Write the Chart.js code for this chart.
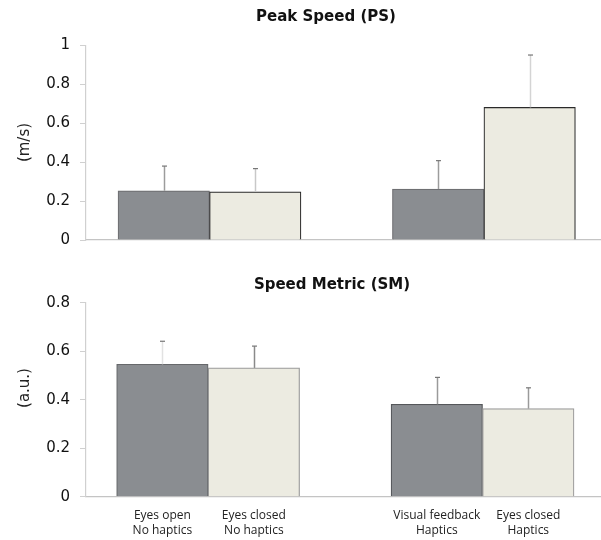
<!DOCTYPE html>
<html>
<head>
<meta charset="utf-8">
<script src="https://cdn.jsdelivr.net/npm/chart.js@4"></script>
<style>
  body { margin: 0; background: #fff; }
  #wrap { position: relative; width: 601px; height: 540px; }
  #psBox { position: absolute; left: 0; top: 0; width: 601px; height: 260px; }
  #smBox { position: absolute; left: 0; top: 260px; width: 601px; height: 280px; }
</style>
</head>
<body>
<div id="wrap">
  <div id="psBox"><canvas id="psChart"></canvas></div>
  <div id="smBox"><canvas id="smChart"></canvas></div>
</div>
<script>
// conditions along the x axis (a gap separates the two groups)
const conditions = [
    ["Eyes open", "No haptics"],
    ["Eyes closed", "No haptics"],
    ["Visual feedback", "Haptics"],
    ["Eyes closed", "Haptics"],
];
const slots = [0, 1, 3, 4];

// Peak Speed (m/s): mean and upper error
const psMean = [0.253, 0.248, 0.262, 0.682];
const psErr = [0.127, 0.119, 0.146, 0.269];
const psTicks = [0, 0.2, 0.4, 0.6, 0.8, 1];

// Speed Metric (a.u.): mean and upper error
const smMean = [0.546, 0.531, 0.381, 0.363];
const smErr = [0.095, 0.090, 0.111, 0.086];
const smTicks = [0, 0.2, 0.4, 0.6, 0.8];

const DARK = "#8a8d91";
const LIGHT = "#ecebe1";

// draws upward error bars using the chart scales
const errorBarPlugin = {
    id: "errorBars",
    afterDatasetsDraw(chart, args, opts) {
        const ctx = chart.ctx;
        const xs = chart.scales.x, ys = chart.scales.y;
        const data = chart.data.datasets[0].data;
        ctx.save();
        data.forEach((p, i) => {
            const x = Math.round(xs.getPixelForValue(p.x)) + 0.5;
            const y0 = ys.getPixelForValue(p.y);
            const y1 = ys.getPixelForValue(p.y + opts.values[i]);
            ctx.strokeStyle = opts.colors[i];
            ctx.lineWidth = 1.5;
            ctx.beginPath();
            ctx.moveTo(x, y0);
            ctx.lineTo(x, y1);
            ctx.stroke();
            ctx.strokeStyle = "#777";
            ctx.lineWidth = 1.2;
            ctx.beginPath();
            ctx.moveTo(x - 2.5, y1);
            ctx.lineTo(x + 2.5, y1);
            ctx.stroke();
        });
        ctx.restore();
    }
};

// panel title and rotated y label
const panelTextPlugin = {
    id: "panelText",
    afterDraw(chart, args, opts) {
        const ctx = chart.ctx;
        ctx.save();
        ctx.fillStyle = "#111";
        ctx.textAlign = "center";
        ctx.textBaseline = "middle";
        ctx.font = "bold 15px 'DejaVu Sans'";
        ctx.fillText(opts.title, opts.titleX, opts.titleY);
        ctx.translate(opts.labelX, opts.labelY);
        ctx.rotate(-Math.PI / 2);
        ctx.font = "15px 'DejaVu Sans'";
        ctx.fillStyle = "#222";
        ctx.fillText(opts.label, 0, 0);
        ctx.restore();
    }
};

function makeChart(id, means, errs, yTicks, cfg) {
    const ctx = document.getElementById(id).getContext("2d");
    return new Chart(ctx, {
        type: "bar",
        data: {
            datasets: [
                {
                    data: means.map((v, i) => ({ x: slots[i], y: v })),
                    backgroundColor: means.map((v, i) => (i % 2 === 0 ? DARK : LIGHT)),
                    borderColor: cfg.borderColors,
                    borderWidth: 1.2,
                    borderSkipped: "bottom",
                    barPercentage: 1,
                    categoryPercentage: 1,
                },
            ],
        },
        plugins: [errorBarPlugin, panelTextPlugin],
        options: {
            responsive: true,
            maintainAspectRatio: false,
            animation: false,
            layout: {
                padding: { top: cfg.padTop, right: 0, bottom: cfg.padBottom, left: 0 },
            },
            scales: {
                x: {
                    type: "linear",
                    offset: false,
                    min: cfg.xMin,
                    max: cfg.xMax,
                    afterBuildTicks: (scale) => {
                        scale.ticks = slots.map((v) => ({ value: v }));
                    },
                    afterFit: (scale) => {
                        scale.height = cfg.xHeight;
                    },
                    grid: { display: false, drawTicks: false, offset: false },
                    border: { color: "#c4c4c4", width: 1.2 },
                    ticks: {
                        display: cfg.showLabels,
                        autoSkip: false,
                        maxRotation: 0,
                        padding: 11,
                        color: "#222",
                        font: { family: "'Open Sans'", size: 12, lineHeight: 1.25 },
                        callback: (value) => conditions[slots.indexOf(value)] || "",
                    },
                },
                y: {
                    min: 0,
                    max: yTicks[yTicks.length - 1],
                    afterBuildTicks: (scale) => {
                        scale.ticks = yTicks.map((v) => ({ value: v }));
                    },
                    afterFit: (scale) => {
                        scale.width = 86;
                    },
                    grid: {
                        drawOnChartArea: false,
                        tickLength: 6,
                        color: "#d0d0d0",
                    },
                    border: { color: "#d0d0d0", width: 1.2 },
                    ticks: {
                        padding: 10,
                        color: "#111",
                        font: { family: "'DejaVu Sans'", size: 15 },
                        callback: (value) => String(value),
                    },
                },
            },
            plugins: {
                legend: { display: false },
                tooltip: { enabled: false },
                errorBars: { values: errs, colors: cfg.errColors },
                panelText: cfg.text,
            },
        },
    });
}

makeChart("psChart", psMean, psErr, psTicks, {
    padTop: 45.5,
    padBottom: 20,
    xHeight: 0,
    xMin: -0.85,
    xMax: 4.78,
    showLabels: false,
    borderColors: ["#6e6f72", "#2a2a2a", "#6e6f72", "#2a2a2a"],
    errColors: ["#9c9c9c", "#c8c8c8", "#9c9c9c", "#d4d4d4"],
    text: { title: "Peak Speed (PS)", titleX: 326, titleY: 17, label: "(m/s)", labelX: 25, labelY: 142.5 },
});

makeChart("smChart", smMean, smErr, smTicks, {
    padTop: 42.7,
    padBottom: 0,
    xHeight: 43.3,
    xMin: -0.835,
    xMax: 4.795,
    showLabels: true,
    borderColors: ["#66686b", "#9a9a9a", "#55575a", "#9a9a9a"],
    errColors: ["#e2e2e2", "#8a8a8a", "#9a9a9a", "#9a9a9a"],
    text: { title: "Speed Metric (SM)", titleX: 332, titleY: 25, label: "(a.u.)", labelX: 25, labelY: 128 },
});
</script>
</body>
</html>
